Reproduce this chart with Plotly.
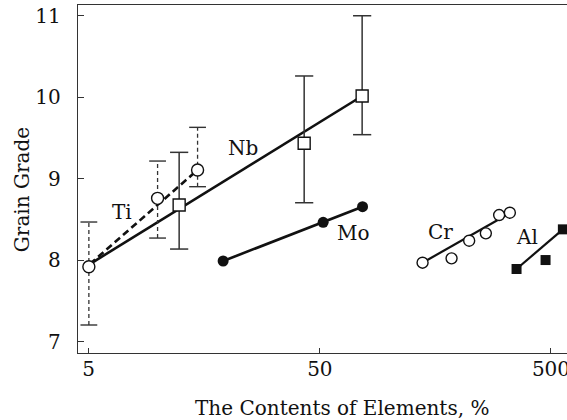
import numpy as np
import plotly.graph_objects as go

# ---- data ----
nb_x = [4.47, 12.31, 42.77, 76.2]
nb_y = [7.845, 8.677, 9.435, 10.016]
nb_err_x = [12.31, 42.77, 76.2]
nb_err_lo = [8.136, 8.705, 9.541]
nb_err_hi = [9.324, 10.262, 11.002]
nb_fit_x = [5.06, 76.2]
nb_fit_y = [7.952, 10.016]

ti_x = [5.008, 9.93, 14.79]
ti_y = [7.919, 8.759, 9.107]
ti_err_lo = [7.203, 8.271, 8.902]
ti_err_hi = [8.468, 9.217, 9.631]
ti_fit_x = [5.06, 14.79]
ti_fit_y = [7.952, 9.107]

mo_x = [19.08, 51.67, 76.5]
mo_y = [7.989, 8.464, 8.656]

cr_x = [139.1, 185.7, 221.3, 261.3, 298.3, 331.9]
cr_y = [7.968, 8.022, 8.238, 8.329, 8.554, 8.582]
cr_fit_x = [139.1, 321.1]
cr_fit_y = [7.968, 8.554]

al_x = [354.8, 473.6, 562.8]
al_y = [7.891, 8.001, 8.378]
al_fit_x = [354.8, 562.8]
al_fit_y = [7.891, 8.378]

label_text = ["Nb", "Ti", "Mo", "Cr", "Al"]
label_x = [23.29, 6.99, 69.67, 166.4, 392.0]
label_y = [9.373, 8.591, 8.329, 8.349, 8.287]

x_ticks = [5, 50, 500]
y_ticks = [7, 8, 9, 10, 11]

x_title = "The Contents of Elements, %"
y_title = "Grain Grade"

FONT = "DejaVu Serif"
INK = "#111111"
AX = "#333333"


def seg(xs, lo, hi):
    sx, sy = [], []
    for a, l, h in zip(xs, lo, hi):
        sx += [a, a, None]
        sy += [l, h, None]
    return sx, sy


fig = go.Figure()

# fit lines
fig.add_trace(go.Scatter(x=nb_fit_x, y=nb_fit_y, mode="lines",
                         line=dict(color=INK, width=2.6), cliponaxis=False))
fig.add_trace(go.Scatter(x=ti_fit_x, y=ti_fit_y, mode="lines",
                         line=dict(color=INK, width=2.6, dash="7px,4px"), cliponaxis=False))
fig.add_trace(go.Scatter(x=cr_fit_x, y=cr_fit_y, mode="lines",
                         line=dict(color=INK, width=2.2), cliponaxis=False))
fig.add_trace(go.Scatter(x=al_fit_x, y=al_fit_y, mode="lines",
                         line=dict(color=INK, width=2.2), cliponaxis=False))

# error bars: Nb solid, Ti dashed
sx, sy = seg(nb_err_x, nb_err_lo, nb_err_hi)
fig.add_trace(go.Scatter(x=sx, y=sy, mode="lines",
                         line=dict(color=AX, width=1.5), cliponaxis=False))
fig.add_trace(go.Scatter(x=nb_err_x + nb_err_x, y=nb_err_lo + nb_err_hi, mode="markers",
                         marker=dict(symbol="line-ew", size=13,
                                     line=dict(color=AX, width=1.5)), cliponaxis=False))
sx, sy = seg(ti_x, ti_err_lo, ti_err_hi)
fig.add_trace(go.Scatter(x=sx, y=sy, mode="lines",
                         line=dict(color=AX, width=1.3, dash="4px,3px"), cliponaxis=False))
fig.add_trace(go.Scatter(x=ti_x + ti_x, y=ti_err_lo + ti_err_hi, mode="markers",
                         marker=dict(symbol="line-ew", size=12,
                                     line=dict(color=AX, width=1.4)), cliponaxis=False))

# Mo line + markers
fig.add_trace(go.Scatter(x=mo_x, y=mo_y, mode="lines+markers",
                         line=dict(color=INK, width=2.6),
                         marker=dict(symbol="circle", size=11, color=INK), cliponaxis=False))

# markers
fig.add_trace(go.Scatter(x=nb_x, y=nb_y, mode="markers",
                         marker=dict(symbol="square", size=12, color="white",
                                     line=dict(color=INK, width=1.4)), cliponaxis=False))
fig.add_trace(go.Scatter(x=ti_x, y=ti_y, mode="markers",
                         marker=dict(symbol="circle", size=12, color="white",
                                     line=dict(color=INK, width=1.4)), cliponaxis=False))
fig.add_trace(go.Scatter(x=cr_x, y=cr_y, mode="markers",
                         marker=dict(symbol="circle", size=11, color="white",
                                     line=dict(color=INK, width=1.4)), cliponaxis=False))
fig.add_trace(go.Scatter(x=al_x, y=al_y, mode="markers",
                         marker=dict(symbol="square", size=10, color=INK), cliponaxis=False))

annotations = []
for t, lx, ly in zip(label_text, label_x, label_y):
    annotations.append(dict(x=np.log10(lx), y=ly, xref="x", yref="y", text=t,
                            xanchor="center", yanchor="middle",
                            showarrow=False, font=dict(family=FONT, size=20, color=INK)))
annotations.append(dict(x=0.54, y=-0.158, xref="paper", yref="paper", text=x_title,
                        xanchor="center", yanchor="middle",
                        showarrow=False, font=dict(family=FONT, size=20, color=INK)))
annotations.append(dict(x=-0.1145, y=0.468, xref="paper", yref="paper", text=y_title,
                        xanchor="center", yanchor="middle",
                        textangle=-90, showarrow=False,
                        font=dict(family=FONT, size=20, color=INK)))

fig.update_layout(
    width=567, height=420,
    margin=dict(l=78, r=0, t=5, b=67, autoexpand=False),
    paper_bgcolor="white", plot_bgcolor="white",
    showlegend=False,
    annotations=annotations,
    xaxis=dict(type="log", range=[0.65265, 2.76823], tickvals=x_ticks,
               ticktext=[str(v) for v in x_ticks], automargin=False,
               ticklabeloverflow="allow",
               ticks="inside", ticklen=5, tickwidth=1.2, tickcolor=AX,
               showline=True, linecolor=AX, linewidth=1.4, mirror=True,
               showgrid=False, zeroline=False, ticklabelstandoff=-2,
               tickfont=dict(family=FONT, size=20, color=INK)),
    yaxis=dict(range=[6.859, 11.134], tickvals=y_ticks, automargin=False,
               ticks="inside", ticklen=6, tickwidth=1.2, tickcolor=AX,
               showline=True, linecolor=AX, linewidth=1.4, mirror=False,
               showgrid=False, zeroline=False, ticklabelstandoff=12,
               tickfont=dict(family=FONT, size=20, color=INK)),
)

fig.write_html("out.html",
               config={"displayModeBar": False},
               post_script="document.body.style.margin='0';"
                           "document.body.style.overflow='hidden';")
